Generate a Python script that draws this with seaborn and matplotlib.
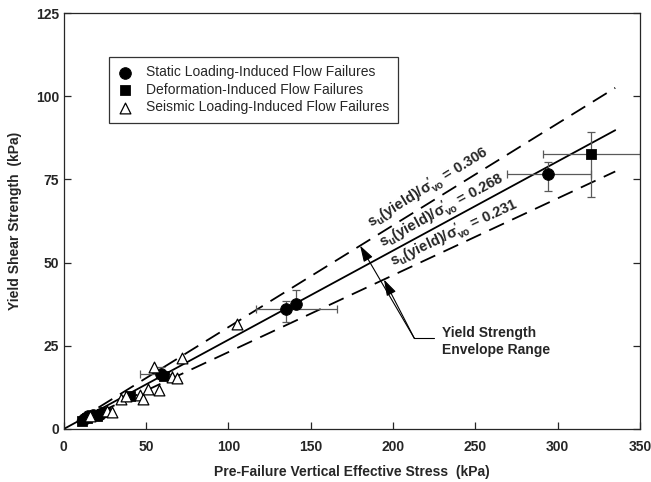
import numpy as np
import pandas as pd
import seaborn as sns
import matplotlib.pyplot as plt

# --- data ---
static_x = [12, 15, 18, 22, 59, 135, 141, 294]
static_y = [3.0, 3.8, 4.2, 4.6, 16.5, 36.0, 37.6, 76.5]
deform_x = [11, 14, 20, 25, 40, 61, 320]
deform_y = [2.5, 3.2, 4.0, 5.0, 10.0, 16.0, 82.6]
seismic_x = [16, 26, 29, 35, 38, 46, 48, 51, 55, 58, 66, 69, 72, 105]
seismic_y = [4.0, 5.5, 5.2, 9.0, 10.0, 10.2, 9.0, 12.0, 18.5, 11.7, 15.7, 15.3, 21.2, 31.5]

# error bars (point, low / high range)
err_x = [59, 135, 141, 294, 320]
err_y = [16.5, 36.0, 37.6, 76.5, 82.6]
err_xlo = [46, 117, 141, 269, 291]
err_xhi = [66, 166, 141, 320, 350]
err_ylo = [15.0, 32.2, 37.6, 71.5, 69.8]
err_yhi = [18.5, 38.6, 41.8, 80.3, 89.3]

ratios = [0.306, 0.268, 0.231]
line_start = [8, 0, 8]
line_end = 335

sns.set_style('ticks')
plt.rcParams['font.family'] = ['Liberation Sans', 'DejaVu Sans']
plt.rcParams['mathtext.default'] = 'regular'

fig = plt.figure(figsize=(6.51, 4.82), dpi=100)
ax = fig.add_axes([0.098, 0.11, 0.885, 0.863])
ax.set_xlim(0, 350)
ax.set_ylim(0, 125)

# envelope lines
for r, x0 in zip(ratios, line_start):
    xs = np.array([x0, line_end])
    sns.lineplot(x=xs, y=r * xs, ax=ax, color='black', lw=1.3,
                 linestyle='-' if r == 0.268 else (0, (9, 5)))

# error bars
xe = [np.array(err_x) - np.array(err_xlo), np.array(err_xhi) - np.array(err_x)]
ye = [np.array(err_y) - np.array(err_ylo), np.array(err_yhi) - np.array(err_y)]
ax.errorbar(err_x, err_y, xerr=xe, yerr=ye, fmt='none', ecolor='0.35',
            elinewidth=0.9, capsize=3, capthick=0.9, zorder=2)

sns.scatterplot(x=static_x, y=static_y, ax=ax, marker='o', s=70, color='black',
                edgecolor='black', label='Static Loading-Induced Flow Failures', zorder=3)
sns.scatterplot(x=deform_x, y=deform_y, ax=ax, marker='s', s=50, color='black',
                edgecolor='black', label='Deformation-Induced Flow Failures', zorder=3)
sns.scatterplot(x=seismic_x, y=seismic_y, ax=ax, marker='^', s=60, color='white',
                edgecolor='black', linewidth=0.9,
                label='Seismic Loading-Induced Flow Failures', zorder=3)

# labels along the lines
label_pos = [(187, 60.3), (194, 54.3), (200, 48.8)]
for r, (tx, ty) in zip(ratios, label_pos):
    p1 = ax.transData.transform((0, 0))
    p2 = ax.transData.transform((100, 100 * r))
    ang = np.degrees(np.arctan2(p2[1] - p1[1], p2[0] - p1[0]))
    ax.text(tx, ty, r"s$_\mathregular{u}$(yield)/$\sigma_\mathregular{vo}^{\prime}$ = " + f"{r:.3f}",
            rotation=ang, rotation_mode='anchor', ha='left', va='baseline',
            fontsize=10.5, fontweight='bold')

# envelope range pointer
arrow = dict(arrowstyle='-|>,head_length=0.7,head_width=0.22', color='black',
             lw=0.8, shrinkA=0, shrinkB=0, mutation_scale=14)
ax.annotate('', xy=(180, 55.1), xytext=(213, 27.2), arrowprops=arrow)
ax.annotate('', xy=(194.5, 44.9), xytext=(213, 27.2), arrowprops=arrow)
ax.plot([213, 225], [27.2, 27.2], color='black', lw=0.8)
ax.text(230, 31, 'Yield Strength\nEnvelope Range', ha='left', va='top',
        fontsize=10, fontweight='bold', linespacing=1.25)

leg = ax.legend(loc='upper left', bbox_to_anchor=(0.078, 0.894), borderaxespad=0,
                fontsize=10, frameon=True, fancybox=False, edgecolor='black',
                handletextpad=0.9, labelspacing=0.25, borderpad=0.6, handlelength=1.2)
leg.get_frame().set_linewidth(0.9)

ax.set_xticks(np.arange(0, 351, 50))
ax.set_yticks(np.arange(0, 126, 25))
ax.tick_params(direction='in', length=5, width=0.9, right=True, labelsize=10)
ax.tick_params(axis='x', pad=8)
for lab in ax.get_xticklabels() + ax.get_yticklabels():
    lab.set_fontweight('bold')
for sp in ax.spines.values():
    sp.set_linewidth(0.9)
    sp.set_visible(True)

ax.set_xlabel('Pre-Failure Vertical Effective Stress  (kPa)', fontsize=10,
              fontweight='bold', labelpad=8)
ax.set_ylabel('Yield Shear Strength  (kPa)', fontsize=10, fontweight='bold', labelpad=10)

fig.savefig('out.png', dpi=100)
